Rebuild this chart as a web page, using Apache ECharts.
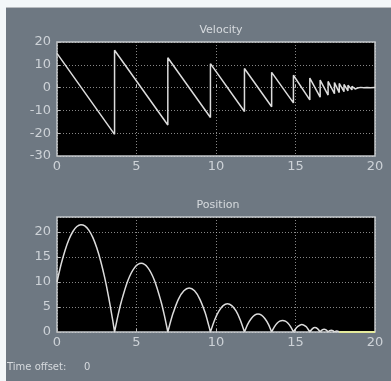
<!DOCTYPE html>
<html><head><meta charset="utf-8">
<script src="https://cdn.jsdelivr.net/npm/echarts@6/dist/echarts.min.js"></script>
<style>html,body{margin:0;padding:0;background:#fff}#c{width:391px;height:381px}</style>
</head><body><div id="c"></div>
<script>
// Velocity sawtooth vertices [time, velocity]
const velocityPts = [[0,15],[3.62,-20.5],[3.62,16.4],[6.97,-16.4],[6.97,13.1],[9.65,-13.1],[9.65,10.5],[11.79,-10.5],[11.79,8.4],[13.50,-8.4],[13.50,6.7],[14.87,-6.7],[14.87,5.4],[15.9,-5.4],[15.9,4.2],[16.55,-4.2],[16.55,3.3],[17.05,-3.3],[17.05,2.7],[17.45,-2.7],[17.45,2.2],[17.75,-2.2],[17.75,1.8],[18.05,-1.8],[18.05,1.4],[18.3,-1.4],[18.3,1.0],[18.55,-1.0],[18.55,0.6],[18.75,-0.6],[18.75,0.2],[18.9,-0.2],[19.1,0.1],[19.3,-0.1],[19.5,0.05],[19.7,-0.05],[20,0]];
// Position arcs [time, height], null separates bounces
const positionPts = [
 [0,10],[0.25,13.44],[0.5,16.27],[0.75,18.49],[1.0,20.10],[1.25,21.09],[1.5,21.46],[1.75,21.23],[2.0,20.38],[2.25,18.92],[2.5,16.84],[2.75,14.16],[3.0,10.86],[3.25,6.94],[3.5,2.41],[3.62,0],null,
 [3.62,0],[3.83,3.22],[4.04,6.01],[4.46,10.31],[4.88,12.88],[5.30,13.74],[5.71,12.88],[6.13,10.31],[6.55,6.01],[6.76,3.22],[6.97,0],null,
 [6.97,0],[7.14,2.06],[7.31,3.85],[7.64,6.59],[7.98,8.24],[8.31,8.79],[8.65,8.24],[8.98,6.59],[9.32,3.85],[9.48,2.06],[9.65,0],null,
 [9.65,0],[9.92,2.46],[10.19,4.22],[10.45,5.28],[10.72,5.63],[10.99,5.28],[11.26,4.22],[11.52,2.46],[11.79,0],null,
 [11.79,0],[12.00,1.58],[12.22,2.70],[12.43,3.38],[12.64,3.60],[12.86,3.38],[13.07,2.70],[13.29,1.58],[13.50,0],null,
 [13.50,0],[13.67,1.01],[13.84,1.73],[14.01,2.16],[14.19,2.30],[14.36,2.16],[14.53,1.73],[14.70,1.01],[14.87,0],null,
 [14.87,0],[15.01,0.65],[15.15,1.11],[15.40,1.48],[15.65,1.11],[15.77,0.65],[15.9,0],null,
 [15.9,0],[16.07,0.68],[16.22,0.9],[16.38,0.68],[16.55,0],null,
 [16.55,0],[16.68,0.42],[16.8,0.56],[16.92,0.42],[17.05,0],null,
 [17.05,0],[17.15,0.28],[17.25,0.36],[17.35,0.28],[17.45,0],null,
 [17.45,0],[17.6,0.22],[17.75,0]
];
const restPts = [[17.75,0],[20,0]];
const xTicks = [0,5,10,15,20];
const velRange = [-30,20];
const posRange = [0,23];

const chart = echarts.init(document.getElementById('c'));
const lbl = {color:'#cdd2d7', fontSize:13, fontFamily:'DejaVu Sans'};
const split = {show:true, lineStyle:{color:'#d0d0d0', type:[1,2], width:1, opacity:0.65}};
const tick = {show:true, inside:true, length:3, lineStyle:{color:'#bbb'}};
function xAx(gi){return {type:'value', gridIndex:gi, min:xTicks[0], max:xTicks[xTicks.length-1], interval:5,
  axisLine:{show:false}, axisTick:tick, splitLine:split, axisLabel:Object.assign({margin:4},lbl)};}
chart.setOption({
  backgroundColor:'#6e7882',
  animation:false,
  title:[
    {text:'Velocity', left:216, top:20, textAlign:'center', textStyle:{color:'#d6dade', fontSize:11, fontWeight:'normal', fontFamily:'DejaVu Sans'}},
    {text:'Position', left:213, top:195, textAlign:'center', textStyle:{color:'#d6dade', fontSize:11, fontWeight:'normal', fontFamily:'DejaVu Sans'}}
  ],
  graphic:[
    {type:'rect', left:0, top:0, shape:{width:391, height:7}, style:{fill:'#f3f7f9'}},
    {type:'rect', left:0, top:7, shape:{width:391, height:1}, style:{fill:'#b8bcc0'}},
    {type:'rect', left:0, top:0, shape:{width:6, height:381}, style:{fill:'#f3f7f9'}},
    {type:'text', left:7, top:362, style:{text:'Time offset:', fill:'#d6dade', fontSize:10, fontFamily:'DejaVu Sans'}},
    {type:'text', left:84, top:362, style:{text:'0', fill:'#d6dade', fontSize:10, fontFamily:'DejaVu Sans'}}
  ],
  grid:[
    {left:57, top:42, width:318, height:114, show:true, backgroundColor:'#000', borderColor:'#c4c8cc', borderWidth:1.5},
    {left:57, top:217, width:318, height:115, show:true, backgroundColor:'#000', borderColor:'#c4c8cc', borderWidth:1.5}
  ],
  xAxis:[xAx(0), xAx(1)],
  yAxis:[
    {type:'value', gridIndex:0, min:velRange[0], max:velRange[1], interval:10, axisLine:{show:false}, axisTick:tick, splitLine:split, axisLabel:Object.assign({margin:6},lbl)},
    {type:'value', gridIndex:1, min:posRange[0], max:posRange[1], interval:5, axisLine:{show:false}, axisTick:tick, splitLine:split, axisLabel:Object.assign({margin:6, showMaxLabel:false},lbl)}
  ],
  series:[
    {type:'line', xAxisIndex:0, yAxisIndex:0, data:velocityPts, showSymbol:false, lineStyle:{color:'#dcdcdc', width:1.5}},
    {type:'line', xAxisIndex:1, yAxisIndex:1, data:positionPts, showSymbol:false, smooth:0.3, connectNulls:false, lineStyle:{color:'#dcdcdc', width:1.5}},
    {type:'line', xAxisIndex:1, yAxisIndex:1, data:restPts, showSymbol:false, lineStyle:{color:'#e4ea9c', width:2}}
  ]
});
</script></body></html>
